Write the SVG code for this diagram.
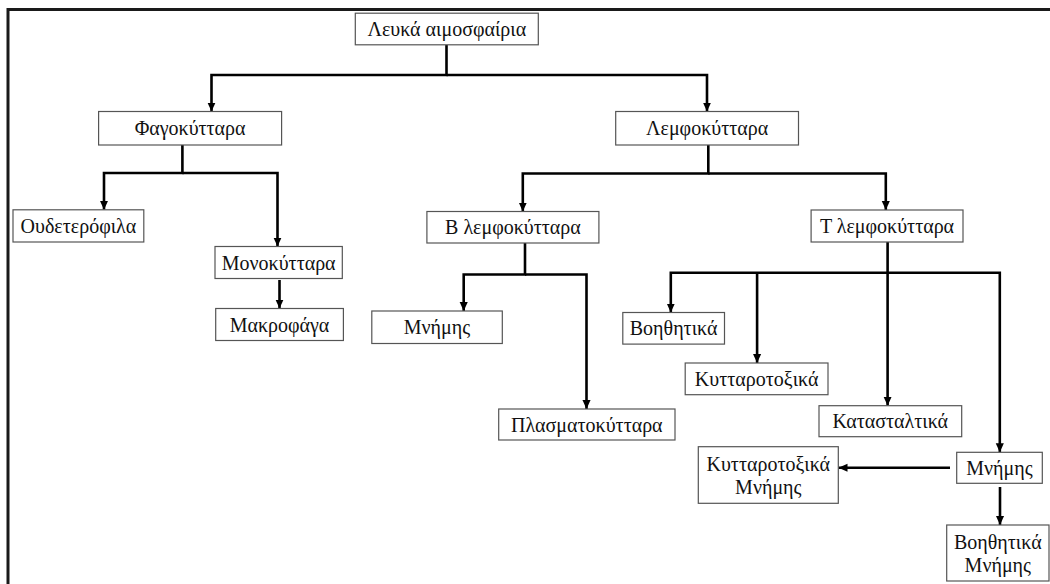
<svg xmlns="http://www.w3.org/2000/svg" width="1050" height="584" viewBox="0 0 1050 584">
<style>
.box{fill:#fff;stroke:#555;stroke-width:1.2}
.t{font-family:"Liberation Serif","Times New Roman",serif;font-size:20px;fill:#111;text-anchor:middle}
.c{fill:none;stroke:#000;stroke-width:2.6;marker-end:url(#ah)}
.frame{fill:none;stroke:#1a1a1a;stroke-width:3}
</style>
<defs>
<marker id="ah" viewBox="0 0 10 10" refX="10" refY="5" markerUnits="userSpaceOnUse" markerWidth="9" markerHeight="9" orient="auto">
<path d="M0,0.5 L10,5 L0,9.5 z" fill="#000"/>
</marker>
</defs>
<rect width="1050" height="584" fill="#fff"/>
<rect class="frame" x="8" y="9.5" width="1100" height="700"/>
<g id="connectors">
<path class="c" d="M446.5,44.8 V75 H211.5 V111.5"/>
<path class="c" d="M446.5,75 H707 V111.5"/>
<path class="c" d="M182.4,145 V173 H104 V209.8"/>
<path class="c" d="M182.4,173 H277.5 V246.5"/>
<path class="c" d="M279.5,280 V308.5"/>
<path class="c" d="M708.3,145 V173.5 H522.8 V211.5"/>
<path class="c" d="M708.3,173.5 H885.8 V210"/>
<path class="c" d="M525,243 V274.5 H463.7 V311"/>
<path class="c" d="M525,274.5 H586.5 V409"/>
<path class="c" d="M887.6,242 V272.7 H670.8 V312.5"/>
<path class="c" d="M757.1,272.7 V363"/>
<path class="c" d="M887.6,272.7 V405.7"/>
<path class="c" d="M887.6,272.7 H999.8 V452.3"/>
<path class="c" d="M950,467.7 H838.5"/>
<path class="c" d="M1000,487 V525"/>
</g>
<g id="n-leuka"><rect class="box" x="355.3" y="13.2" width="183" height="31.6"/><text class="t" x="446.8" y="35.8">Λευκά αιμοσφαίρια</text></g>
<g id="n-fago"><rect class="box" x="98.6" y="111.5" width="183" height="33.5"/><text class="t" x="190.1" y="135">Φαγοκύτταρα</text></g>
<g id="n-lemfo"><rect class="box" x="615.7" y="111.5" width="182.8" height="33.5"/><text class="t" x="707.1" y="135">Λεμφοκύτταρα</text></g>
<g id="n-oudet"><rect class="box" x="13" y="209.8" width="130.8" height="32.2"/><text class="t" x="78.4" y="233">Ουδετερόφιλα</text></g>
<g id="n-mono"><rect class="box" x="215" y="246.5" width="127.3" height="32"/><text class="t" x="278.7" y="269.5">Μονοκύτταρα</text></g>
<g id="n-makro"><rect class="box" x="215.7" y="308.5" width="127.7" height="32"/><text class="t" x="279.5" y="331.5">Μακροφάγα</text></g>
<g id="n-b"><rect class="box" x="426.9" y="211.5" width="172" height="31.5"/><text class="t" x="512.9" y="234.3">Β λεμφοκύτταρα</text></g>
<g id="n-b-mnimis"><rect class="box" x="371.8" y="311" width="130.5" height="32.5"/><text class="t" x="437" y="334.2">Μνήμης</text></g>
<g id="n-plasma"><rect class="box" x="498.7" y="409" width="176.3" height="31"/><text class="t" x="586.8" y="431.5">Πλασματοκύτταρα</text></g>
<g id="n-t"><rect class="box" x="811.1" y="210" width="151.9" height="32"/><text class="t" x="887" y="233">Τ λεμφοκύτταρα</text></g>
<g id="n-voith"><rect class="box" x="622.8" y="312.5" width="101.7" height="31.6"/><text class="t" x="673.6" y="335.3">Βοηθητικά</text></g>
<g id="n-kytt"><rect class="box" x="685.2" y="363" width="142.8" height="31.7"/><text class="t" x="756.6" y="385.8">Κυτταροτοξικά</text></g>
<g id="n-katast"><rect class="box" x="819" y="405.7" width="142.7" height="31"/><text class="t" x="890.3" y="428.2">Κατασταλτικά</text></g>
<g id="n-t-mnimis"><rect class="box" x="956.7" y="452.3" width="85.6" height="31"/><text class="t" x="999.5" y="474.8">Μνήμης</text></g>
<g id="n-kytt-mnimis"><rect class="box" x="698.3" y="446.7" width="140" height="56.6"/><text class="t" x="768.3" y="470.5">Κυτταροτοξικά</text><text class="t" x="768.3" y="493.5">Μνήμης</text></g>
<g id="n-voith-mnimis"><rect class="box" x="946.7" y="525" width="102.3" height="56"/><text class="t" x="997.8" y="548.5">Βοηθητικά</text><text class="t" x="997.8" y="571.5">Μνήμης</text></g>
</svg>
